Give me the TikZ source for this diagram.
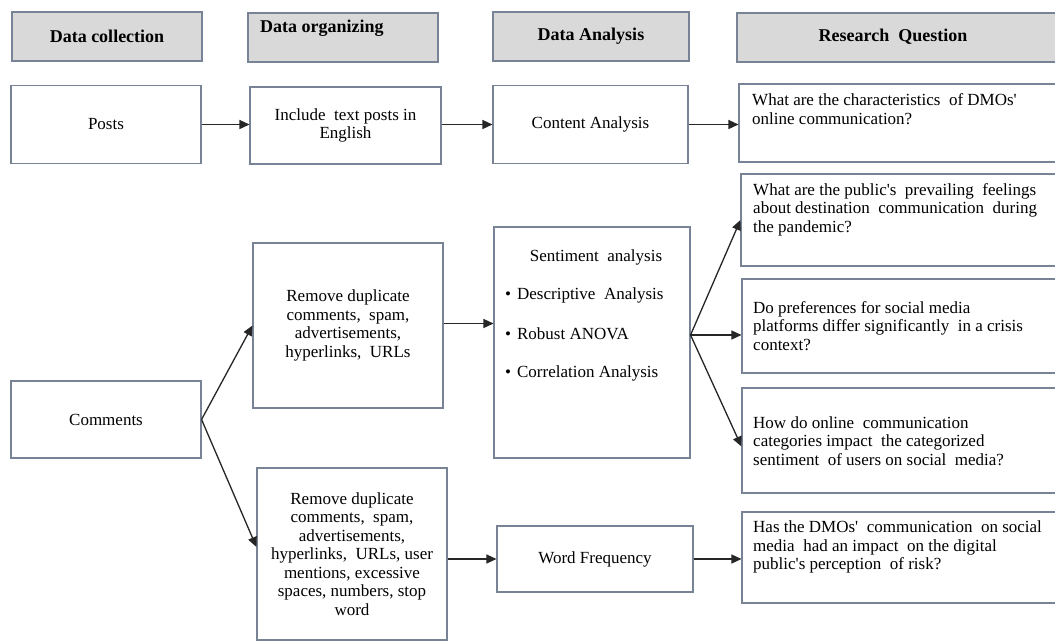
\documentclass[tikz,border=0pt]{standalone}
\usepackage{fontspec}
\setmainfont{Liberation Serif}
\usetikzlibrary{arrows.meta,calc}
\definecolor{bord}{RGB}{120,132,150}
\definecolor{hdr}{RGB}{217,217,217}
\newcommand{\sq}{\textquotesingle}
\begin{document}
\begin{tikzpicture}[x=1pt,y=-1pt,
  box/.style={draw=bord, line width=1.1pt, fill=white, inner sep=0pt, align=center,
    font=\fontsize{17}{18.5}\selectfont},
  hbox/.style={box, fill=hdr, font=\fontsize{18}{20}\selectfont\bfseries},
  htext/.style={inner sep=0pt, font=\fontsize{18}{20}\selectfont\bfseries},
  qtext/.style={anchor=west, align=left, inner sep=0pt, font=\fontsize{17}{18.5}\selectfont},
  btext/.style={anchor=west, inner sep=0pt, font=\fontsize{17}{18.5}\selectfont},
  arr/.style={-{Triangle[length=10pt,width=9pt]}, line width=1.3pt, draw=black!85}]
\clip (0,0) rectangle (1055,641);
\fill[white] (0,0) rectangle (1055,641);

% headers
\node[hbox, minimum width=190, minimum height=49] (h1) at (107,36.5) {Data collection};
\node[hbox, minimum width=190, minimum height=49] (h2) at (343,37.5) {};
\node[htext, anchor=west] (h2t) at (260,28) {Data organizing};
\node[hbox, minimum width=196, minimum height=49] (h3) at (591,36.5) {Data Analysis};
\node[hbox, minimum width=328, minimum height=49] (h4) at (901,37.5) {};
\node[htext] (h4t) at (893,37) {Research\ \ Question};

% row 1
\node[box, minimum width=190, minimum height=78] (posts) at (106,124.5) {Posts};
\node[box, minimum width=191, minimum height=77] (inc) at (345.5,125.5) {Include\ \ text posts in\\English};
\node[box, minimum width=195, minimum height=78] (ca) at (590.5,124.5) {Content Analysis};
\node[box, minimum width=326, minimum height=78] (q1) at (902,123) {};
\node[qtext] (q1t) at (752,109) {What are the characteristics\ \ of DMOs\sq\\online communication?};

% row 2
\node[box, minimum width=190, minimum height=77] (com) at (106,419.5) {Comments};
\node[box, minimum width=190, minimum height=165] (rem1) at (348,325.5)
  {Remove duplicate\\comments,\ \ spam,\\advertisements,\\hyperlinks,\ \ URLs};
\node[box, minimum width=196, minimum height=231] (sent) at (592,342.5) {};
\node[btext, anchor=center] (st) at (596,257) {Sentiment\ \ analysis};
\node[btext] (b1) at (505,295) {\textbullet\hspace{6pt}Descriptive\ \ Analysis};
\node[btext] (b2) at (505,334) {\textbullet\hspace{6pt}Robust ANOVA};
\node[btext] (b3) at (505,373) {\textbullet\hspace{6pt}Correlation Analysis};

\node[box, minimum width=324, minimum height=92] (q2) at (903,220) {};
\node[qtext] (q2t) at (753,209.5) {What are the public\sq s\ \ prevailing\ \ feelings\\about destination\ \ communication\ \ during\\the pandemic?};
\node[box, minimum width=323, minimum height=94] (q3) at (903.5,326) {};
\node[qtext] (q3t) at (753,326) {Do preferences for social media\\platforms differ significantly\ \ in a crisis\\context?};
\node[box, minimum width=323, minimum height=105] (q4) at (903.5,440.5) {};
\node[qtext] (q4t) at (753,441) {How do online\ \ communication\\categories impact\ \ the categorized\\sentiment\ \ of users on social\ \ media?};

\node[box, minimum width=190, minimum height=172] (rem2) at (352,554)
  {Remove duplicate\\comments,\ \ spam,\\advertisements,\\hyperlinks,\ \ URLs, user\\mentions, excessive\\spaces, numbers, stop\\word};
\node[box, minimum width=196, minimum height=66] (wf) at (595,559) {Word Frequency};
\node[box, minimum width=323, minimum height=91] (q5) at (903.5,557.5) {};
\node[qtext] (q5t) at (753,547) {Has the DMOs\sq\ \ communication\ \ on social\\media\ \ had an impact\ \ on the digital\\public\sq s perception\ \ of risk?};

% connectors
\draw[arr] (posts.east) -- (inc.west |- posts.east);
\draw[arr] (inc.east |- ca.west) -- (ca.west);
\draw[arr] (ca.east) -- (q1.west |- ca.east);
\draw[arr] (com.east) -- (rem1.west);
\draw[arr] (com.east) -- ($(rem2.west)+(0,-7)$);
\draw[arr] ($(rem1.east)+(0,-2)$) -- ($(rem1.east -| sent.west)+(0,-2)$);
\coordinate (sx) at ($(sent.east)+(0,-7.5)$);
\draw[arr] (sx) -- (q2.west);
\draw[arr] (sx) -- (q3.west |- sx);
\draw[arr] (sx) -- ($(q4.west)+(0,6)$);
\draw[arr] (wf.west -| rem2.east) -- (wf.west);
\draw[arr] (wf.east) -- (q5.west |- wf.east);
\end{tikzpicture}
\end{document}
